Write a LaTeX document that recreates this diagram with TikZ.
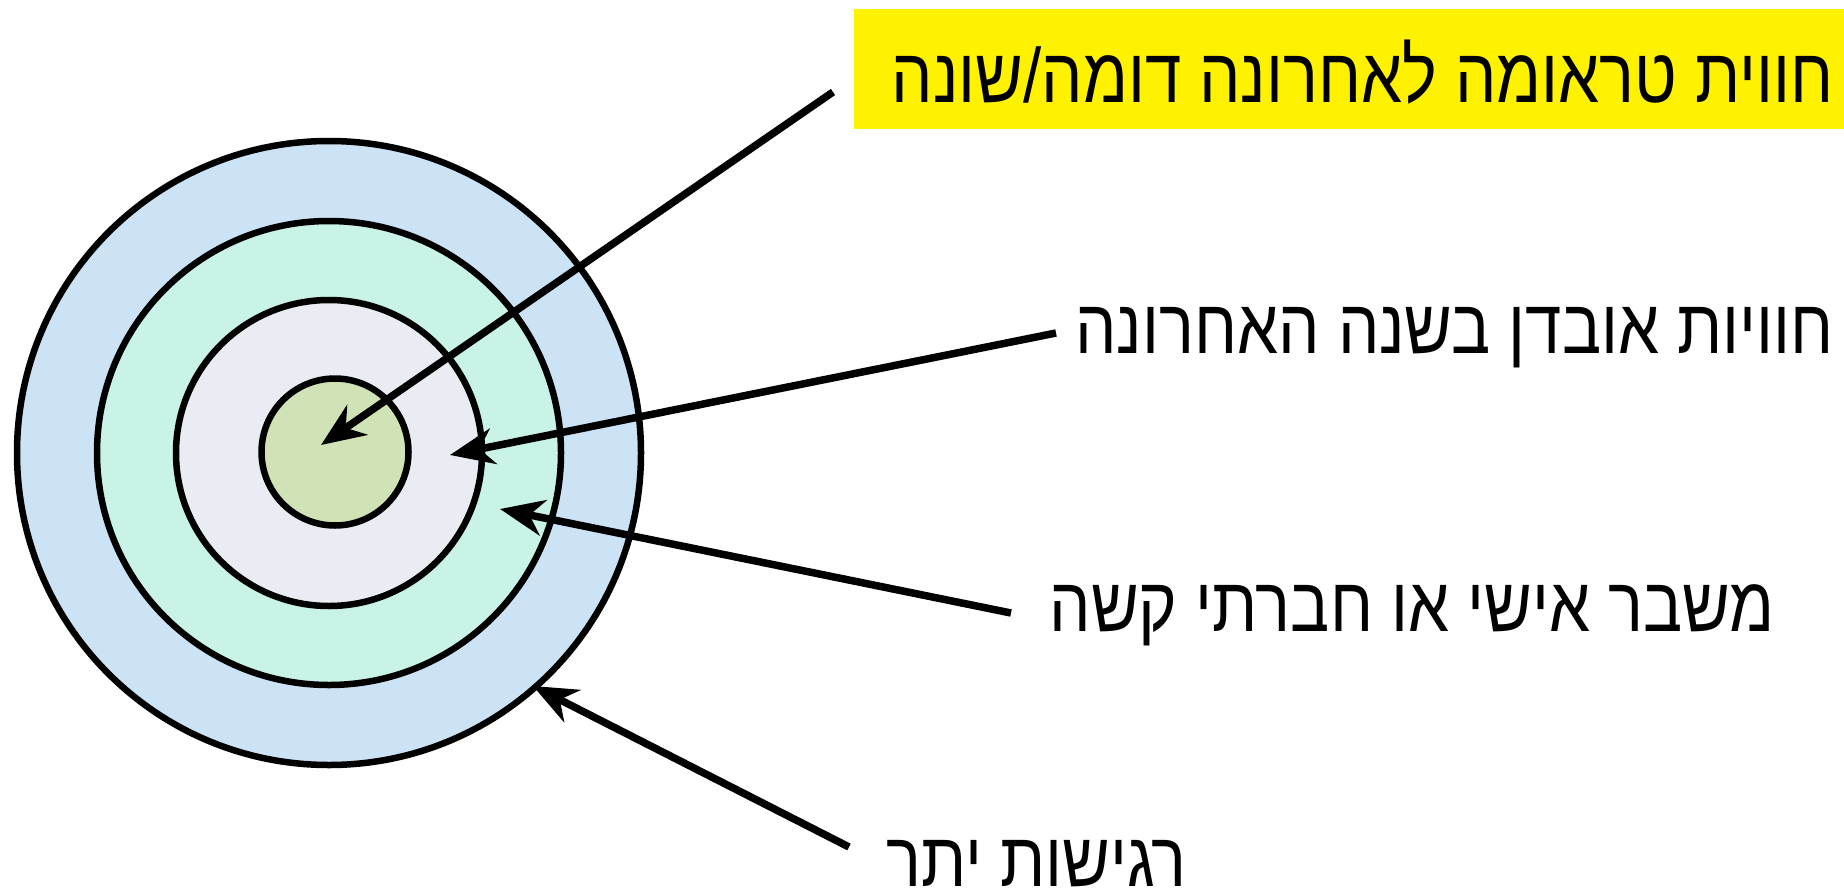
\documentclass[tikz,border=0pt]{standalone}
\usepackage{fontspec}
\usepackage{graphicx}
\usetikzlibrary{arrows.meta}
\TeXXeTstate=1
\newfontfamily\heb[Script=Hebrew]{Liberation Sans}
\definecolor{ringA}{RGB}{204,227,245}
\definecolor{ringB}{RGB}{200,243,230}
\definecolor{ringC}{RGB}{233,236,242}
\definecolor{ringD}{RGB}{208,227,183}
\newcommand{\hebtext}[1]{\scalebox{0.85}[1]{\beginR #1\endR}}
\tikzset{
  ring/.style={draw=black, line width=6.5pt, circle, inner sep=0pt},
  label/.style={inner sep=0pt, anchor=base east, font=\heb\fontsize{77}{90}\selectfont},
  pointer/.style={line width=7.5pt, -{Stealth[length=44pt, width=36pt, inset=14pt]}}
}
\begin{document}
\begin{tikzpicture}[x=1pt,y=-1pt]
\useasboundingbox (0,0) rectangle (1844,894);
\node[ring, fill=ringA, minimum size=624pt] (c1) at (329,453) {};
\node[ring, fill=ringB, minimum size=464pt] (c2) at (329,453) {};
\node[ring, fill=ringC, minimum size=306pt] (c3) at (329,453) {};
\node[ring, fill=ringD, minimum size=147pt] (c4) at (335,452) {};
\node[fill=yellow, minimum width=990pt, minimum height=120pt, inner sep=0pt, anchor=north west] (box) at (854,9) {};
\node[label] (t1) at (1834,102) {\hebtext{חווית טראומה לאחרונה דומה/שונה}};
\node[label] (t2) at (1834,353) {\hebtext{חוויות אובדן בשנה האחרונה}};
\node[label] (t3) at (1775,631) {\hebtext{משבר אישי או חברתי קשה}};
\node[label] (t4) at (1187,886) {\hebtext{רגישות יתר}};
\coordinate (s1) at (833,92);
\coordinate (e1) at (321,445);
\coordinate (s2) at (1056,333);
\coordinate (e2) at (450,455);
\coordinate (s3) at (1011,613);
\coordinate (e3) at (500,509);
\coordinate (s4) at (849,847);
\coordinate (e4) at (533,686);
\draw[pointer] (s1) -- (e1);
\draw[pointer] (s2) -- (e2);
\draw[pointer] (s3) -- (e3);
\draw[pointer] (s4) -- (e4);
\end{tikzpicture}
\end{document}
